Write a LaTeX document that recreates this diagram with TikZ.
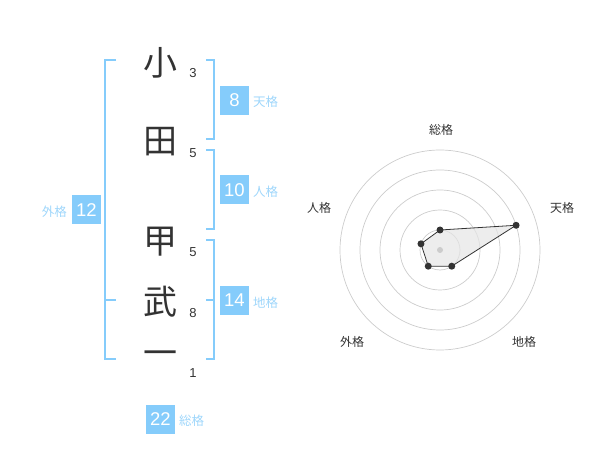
\documentclass[tikz,border=0pt]{standalone}
\usepackage{fontspec}
\usetikzlibrary{calc}
\setmainfont{Liberation Sans}
\newfontfamily\jp{Noto Sans CJK JP}
\definecolor{kblue}{HTML}{85CCFB}
\definecolor{klab}{HTML}{9ED6FB}
\definecolor{dk}{HTML}{333333}
\definecolor{ring}{HTML}{CCCCCC}
\begin{document}
\begin{tikzpicture}[x=1pt,y=-1pt,
  kanji/.style={font=\jp\fontsize{34}{34}\selectfont, text=dk, inner sep=0pt},
  strokes/.style={font=\fontsize{13}{13}\selectfont, text=dk, inner sep=0pt},
  numbox/.style={fill=kblue, text=white, minimum size=29pt, inner sep=0pt, font=\fontsize{18.5}{18.5}\selectfont},
  glab/.style={font=\jp\fontsize{12.5}{12.5}\selectfont, text=klab, inner sep=0pt},
  brk/.style={draw=kblue, line width=2pt},
  ringline/.style={draw=ring, line width=0.7pt},
  rlab/.style={font=\jp\fontsize{12}{12}\selectfont, text=dk, inner sep=0pt},
  vdot/.style={fill=dk, draw=none},
  poly/.style={draw=dk, line width=0.8pt, fill=black!10, fill opacity=0.7}
]
\useasboundingbox (0,0) rectangle (600,470);
% kanji
\node[kanji] (k1) at (160,63) {小};
\node[kanji] (k2) at (160,142) {田};
\node[kanji] (k3) at (160,242) {甲};
\node[kanji] (k4) at (160,302) {武};
\node[kanji] (k5) at (160,358) {一};
% stroke counts
\node[strokes] (s1) at (193,73) {3};
\node[strokes] (s2) at (193,153) {5};
\node[strokes] (s3) at (193,252) {5};
\node[strokes] (s4) at (193,313) {8};
\node[strokes] (s5) at (193,373) {1};
% brackets
\draw[brk] (116,60) -- (105,60) -- (105,359) -- (116,359);
\draw[brk] (105,300) -- (116,300);
\draw[brk] (206,60) -- (214,60) -- (214,139) -- (206,139);
\draw[brk] (206,150) -- (214,150) -- (214,229) -- (206,229);
\draw[brk] (206,240) -- (214,240) -- (214,359) -- (206,359);
\draw[brk] (206,300) -- (214,300);
% boxes
\node[numbox] (ten) at (234.5,100.5) {8};
\node[glab, anchor=west] (tenl) at (253,102) {天格};
\node[numbox] (jin) at (234.5,190) {10};
\node[glab, anchor=west] (jinl) at (253,192) {人格};
\node[numbox] (chi) at (234.5,300.5) {14};
\node[glab, anchor=west] (chil) at (253,303) {地格};
\node[numbox] (gai) at (86.5,210) {12};
\node[glab, anchor=east] (gail) at (67,212) {外格};
\node[numbox] (sou) at (160.5,419) {22};
\node[glab, anchor=west] (soul) at (179,421) {総格};
% radar
\coordinate (c) at (440,250);
\foreach \r in {20,40,60,80,100} \draw[ringline] (c) circle[radius=\r];
\coordinate (p1) at ($(c)+(-90:20)$);
\coordinate (p2) at ($(c)+(-18:80)$);
\coordinate (p3) at ($(c)+(54:20)$);
\coordinate (p4) at ($(c)+(126:20)$);
\coordinate (p5) at ($(c)+(198:20)$);
\draw[poly] (p1) -- (p2) -- (p3) -- (p4) -- (p5) -- cycle;
\fill[ring] (c) circle[radius=3];
\foreach \p in {p1,p2,p3,p4,p5} \fill[vdot] (\p) circle[radius=3.5];
\node[rlab] (r1) at (441,130) {総格};
\node[rlab] (r2) at (562,208) {天格};
\node[rlab] (r3) at (524,342) {地格};
\node[rlab] (r4) at (352,342) {外格};
\node[rlab] (r5) at (319,208) {人格};
\end{tikzpicture}
\end{document}
